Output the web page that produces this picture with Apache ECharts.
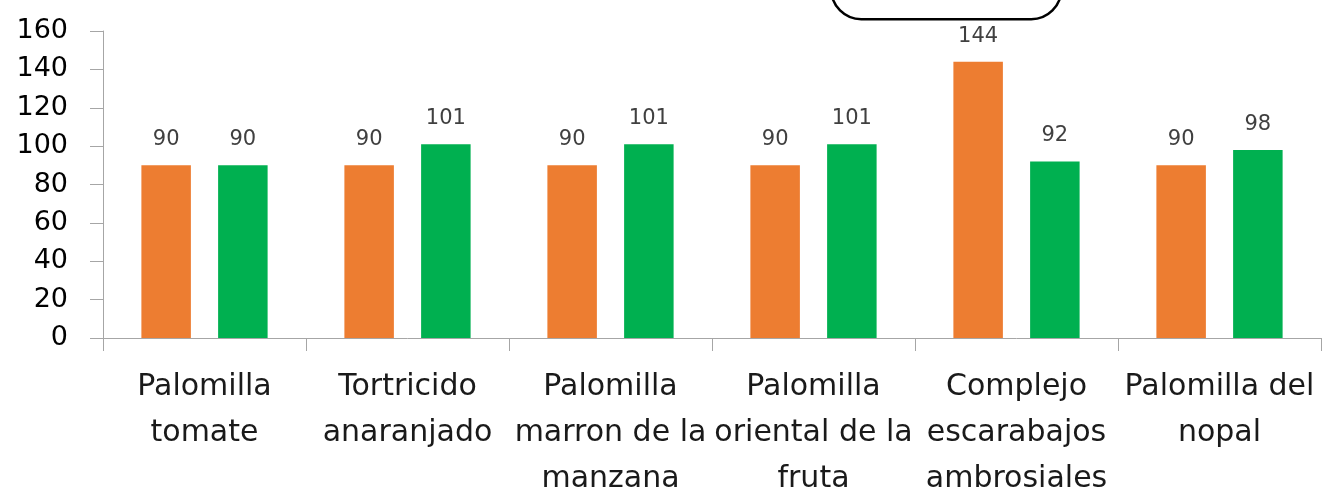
<!DOCTYPE html>
<html>
<head>
<meta charset="utf-8">
<script src="https://cdn.jsdelivr.net/npm/echarts@6/dist/echarts.min.js"></script>
<style>html,body{margin:0;padding:0;background:#fff;overflow:hidden}#c{width:1322px;height:493px}</style>
</head>
<body>
<div id="c"></div>
<script>
var categories = ["Palomilla\ntomate", "Tortricido\nanaranjado", "Palomilla\nmarron de la\nmanzana", "Palomilla\noriental de la\nfruta", "Complejo\nescarabajos\nambrosiales", "Palomilla del\nnopal"];
var seriesOrange = [90, 90, 90, 90, 144, 90];
var seriesGreen = [90, 101, 101, 101, 92, 98];
var yTicks = [0, 20, 40, 60, 80, 100, 120, 140, 160];

var chart = echarts.init(document.getElementById('c'));
var font = 'DejaVu Sans';
chart.setOption({
  animation: false,
  grid: { left: 103, right: 1, top: 31, height: 307, containLabel: false, outerBoundsMode: 'none' },
  xAxis: {
    type: 'category',
    data: categories,
    axisLine: { show: true, lineStyle: { color: '#A6A6A6', width: 1 } },
    axisTick: { show: true, length: 13, lineStyle: { color: '#A6A6A6' } },
    axisLabel: { interval: 0, margin: 26, fontFamily: font, fontSize: 30, lineHeight: 46, color: '#1a1a1a' }
  },
  yAxis: {
    type: 'value',
    min: yTicks[0],
    max: yTicks[yTicks.length - 1],
    interval: 20,
    splitLine: { show: false },
    axisLine: { show: true, lineStyle: { color: '#A6A6A6', width: 1 } },
    axisTick: { show: true, length: 13, lineStyle: { color: '#A6A6A6' } },
    axisLabel: { margin: 35, fontFamily: font, fontSize: 27, color: '#000' }
  },
  series: [
    {
      type: 'bar', data: seriesOrange, barWidth: 49.5, barGap: '55%',
      itemStyle: { color: '#ED7D31' },
      label: { show: true, position: 'top', distance: 15, fontFamily: font, fontSize: 21, color: '#404040' }
    },
    {
      type: 'bar', data: seriesGreen, barWidth: 49.5, barGap: '55%',
      itemStyle: { color: '#00B050' },
      label: { show: true, position: 'top', distance: 15, fontFamily: font, fontSize: 21, color: '#404040' }
    }
  ],
  graphic: [
    {
      type: 'rect', left: 830, top: -42, silent: true,
      shape: { width: 230, height: 60, r: 30 },
      style: { fill: '#fff', stroke: '#000', lineWidth: 2.5 }
    }
  ]
});
</script>
</body>
</html>
